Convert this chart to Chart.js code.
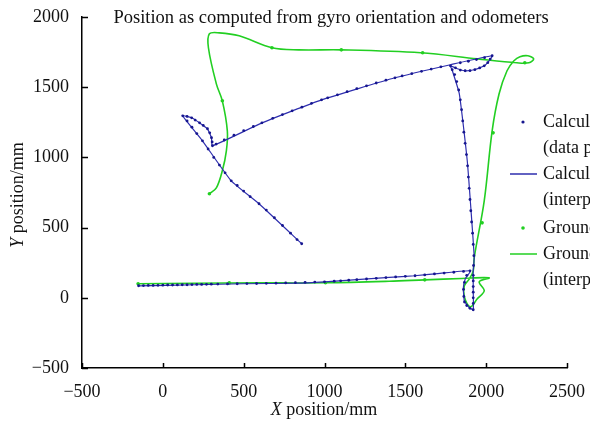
<!DOCTYPE html>
<html>
<head>
<meta charset="utf-8">
<script src="https://cdn.jsdelivr.net/npm/chart.js@4.4.0/dist/chart.umd.min.js"></script>
<style>
html,body{margin:0;padding:0;background:#fff;}
#wrap{width:590px;height:423px;position:relative;}
</style>
</head>
<body>
<div id="wrap"><canvas id="c" width="590" height="423"></canvas></div>
<script>
// ---- data (mm) ----
const titleText = "Position as computed from gyro orientation and odometers";
const xTicks = [-500, 0, 500, 1000, 1500, 2000, 2500];
const yTicks = [-500, 0, 500, 1000, 1500, 2000];
const legendLabels = [
  ["Calculated position", "(data points)"],
  ["Calculated position", "(interpolated)"],
  ["Ground truth (data points)"],
  ["Ground truth", "(interpolated)"]
];

// calculated path (interpolated line)
const calcLine = [
  [-153,85],[200,93],[500,100],[840,104],[1000,114],[1400,145],[1558,157],[1700,172],[1902,192],
  [1871,135],[1859,71],[1865,-21],[1896,-71],[1920,-85],[1920,50],[1920,192],
  [1926,285],[1914,499],[1883,976],[1834,1453],[1791,1617],[1779,1652],
  [1822,1631],[1865,1617],[1926,1624],[1988,1652],[2018,1688],[2037,1724],
  [1779,1660],[1436,1567],[982,1410],[613,1246],[307,1083],
  [301,1140],[276,1204],[227,1246],[178,1282],[123,1296],
  [245,1118],[423,833],[595,670],[859,385]
];

// calculated data points
const calcPoints = [
  [-150,86],[-120,87],[-90,88],[-60,88],[-30,89],[0,90],[30,91],[60,91],[90,92],[120,93],[150,93],
  [180,94],[210,95],[240,95],[270,96],[300,97],[340,98],[400,99],[460,100],[520,101],[580,102],
  [640,103],[700,104],[760,106],[820,108],[880,110],[940,112],[1000,114],[1060,118],[1100,121],
  [1150,125],[1200,129],[1260,134],[1320,139],[1380,144],[1440,149],[1500,153],[1560,157],
  [1620,163],[1680,170],[1740,176],[1800,182],[1860,188],[1900,192],
  [1880,160],[1866,110],[1860,60],[1862,10],[1866,-30],[1880,-55],[1900,-75],[1920,-85],
  [1920,-40],[1920,0],[1920,40],[1920,80],[1920,120],[1920,160],[1922,230],[1924,300],
  [1920,380],[1916,460],[1910,540],[1905,620],[1900,700],[1895,780],[1890,860],[1885,940],
  [1878,1020],[1870,1100],[1862,1180],[1855,1260],[1848,1340],[1840,1410],[1830,1480],
  [1818,1540],[1805,1590],[1790,1625],[1779,1652],
  [1810,1638],[1840,1622],[1870,1617],[1900,1618],[1930,1625],[1960,1637],[1988,1652],
  [2010,1675],[2025,1700],[2037,1724],
  [1990,1710],[1940,1697],[1890,1685],[1840,1674],[1720,1645],[1660,1629],[1600,1613],
  [1540,1596],[1480,1580],[1436,1567],[1380,1550],[1320,1530],[1260,1510],[1200,1490],
  [1140,1468],[1080,1446],[1020,1424],[982,1410],[920,1385],[860,1358],[800,1332],[740,1305],
  [680,1278],[613,1246],[560,1220],[500,1190],[440,1158],[380,1124],[330,1095],[307,1083],
  [305,1110],[301,1140],[290,1175],[276,1204],[250,1228],[227,1246],[200,1266],[178,1282],
  [150,1292],[123,1296],[150,1260],[180,1215],[210,1170],[245,1118],[280,1060],[315,1000],
  [350,945],[385,890],[423,833],[460,800],[500,760],[540,720],[595,670],[640,625],[690,570],
  [740,515],[790,460],[830,415],[859,385]
];

// ground truth path (interpolated line)
const truthLine = [
  [-153,100],[200,104],[600,106],[1006,107],[1400,118],[1620,128],[1850,138],[2018,142],
  [1957,114],[1988,50],[1945,-7],[1902,-64],[1865,7],[1865,85],[1896,135],[1920,192],
  [1926,285],[1988,691],[2037,1189],[2080,1453],[2129,1617],[2172,1688],[2209,1717],
  [2258,1724],[2294,1702],[2264,1674],[2190,1674],[1945,1702],[1595,1745],[1104,1766],
  [840,1766],[675,1781],[472,1866],[350,1887],[288,1880],[282,1781],[331,1524],[368,1403],
  [399,1189],[393,1047],[368,905],[331,783],[288,741]
];

// ground truth data points
const truthPoints = [
  [-153,100],[411,106],[1006,107],[1620,128],[1975,534],[2043,1175],[2239,1674],
  [1607,1745],[1104,1766],[675,1781],[368,1403],[288,741]
];

const toXY = a => a.map(p => ({x:p[0], y:p[1]}));

const BLUE_LINE = '#2e2eae';
const BLUE_DOT = '#16168f';
const GREEN = '#22cf22';
const SERIF = '"Liberation Serif", "DejaVu Serif", serif';

const decor = {
  id: 'decor',
  afterDraw(chart) {
    const ctx = chart.ctx;
    const xs = chart.scales.x, ys = chart.scales.y;
    const ca = chart.chartArea;
    ctx.save();
    // inward tick marks
    ctx.strokeStyle = '#000';
    ctx.lineWidth = 1.5;
    ctx.beginPath();
    xTicks.forEach(v => {
      const px = Math.round(xs.getPixelForValue(v)) + 0.5;
      ctx.moveTo(px, ca.bottom); ctx.lineTo(px, ca.bottom - 5);
    });
    yTicks.forEach(v => {
      const py = Math.round(ys.getPixelForValue(v)) + 0.5;
      ctx.moveTo(ca.left, py); ctx.lineTo(ca.left + 6, py);
    });
    ctx.stroke();

    // title
    ctx.fillStyle = '#111';
    ctx.textAlign = 'center';
    ctx.textBaseline = 'middle';
    ctx.font = '18.5px ' + SERIF;
    ctx.fillText(titleText, 331, 18);

    // axis titles with italic variable
    function mixed(x, y, italicPart, rest) {
      ctx.font = 'italic 18px ' + SERIF;
      const w1 = ctx.measureText(italicPart).width;
      ctx.font = '18px ' + SERIF;
      const w2 = ctx.measureText(rest).width;
      const start = x - (w1 + w2) / 2;
      ctx.textAlign = 'left';
      ctx.font = 'italic 18px ' + SERIF;
      ctx.fillText(italicPart, start, y);
      ctx.font = '18px ' + SERIF;
      ctx.fillText(rest, start + w1, y);
    }
    mixed(324, 410, 'X', ' position/mm');
    ctx.save();
    ctx.translate(18, 195);
    ctx.rotate(-Math.PI / 2);
    mixed(0, 0, 'Y', ' position/mm');
    ctx.restore();

    // legend
    ctx.textAlign = 'left';
    ctx.textBaseline = 'middle';
    ctx.font = '18px ' + SERIF;
    const tx = 543;
    const rows = [122, 148, 174, 200, 228, 254, 280];
    ctx.fillStyle = BLUE_DOT;
    ctx.beginPath(); ctx.arc(523, rows[0], 1.6, 0, Math.PI * 2); ctx.fill();
    ctx.strokeStyle = BLUE_LINE; ctx.lineWidth = 1.5;
    ctx.beginPath(); ctx.moveTo(510, rows[2]); ctx.lineTo(537, rows[2]); ctx.stroke();
    ctx.fillStyle = GREEN;
    ctx.beginPath(); ctx.arc(523, rows[4], 1.8, 0, Math.PI * 2); ctx.fill();
    ctx.strokeStyle = GREEN;
    ctx.beginPath(); ctx.moveTo(510, rows[5]); ctx.lineTo(537, rows[5]); ctx.stroke();
    ctx.fillStyle = '#111';
    const lines = [
      legendLabels[0][0], legendLabels[0][1],
      legendLabels[1][0], legendLabels[1][1],
      legendLabels[2][0],
      legendLabels[3][0], legendLabels[3][1]
    ];
    lines.forEach((t, i) => ctx.fillText(t, tx, rows[i]));
    ctx.restore();
  }
};

new Chart(document.getElementById('c'), {
  type: 'scatter',
  data: {
    datasets: [
      { label: 'truthLine', data: toXY(truthLine), showLine: true, borderColor: GREEN,
        borderWidth: 1.6, pointRadius: 0, tension: 0.35, fill: false, order: 3 },
      { label: 'truthPoints', data: toXY(truthPoints), showLine: false, backgroundColor: GREEN,
        borderWidth: 0, pointRadius: 1.8, order: 2 },
      { label: 'calcLine', data: toXY(calcLine), showLine: true, borderColor: BLUE_LINE,
        borderWidth: 1.2, pointRadius: 0, tension: 0.15, fill: false, order: 1 },
      { label: 'calcPoints', data: toXY(calcPoints), showLine: false, backgroundColor: BLUE_DOT,
        borderWidth: 0, pointRadius: 1.4, order: 0 }
    ]
  },
  options: {
    responsive: false,
    animation: false,
    events: [],
    layout: { padding: { top: 17, right: 19, left: 0, bottom: 0 } },
    plugins: { legend: { display: false }, title: { display: false }, tooltip: { enabled: false } },
    scales: {
      x: {
        type: 'linear', min: -500, max: 2500,
        afterBuildTicks: s => { s.ticks = xTicks.map(v => ({ value: v })); },
        ticks: { color: '#111', font: { family: SERIF, size: 18 }, padding: 5,
          callback: v => (v < 0 ? '\u2212' + Math.abs(v) : String(v)), maxRotation: 0, autoSkip: false },
        grid: { display: false },
        border: { display: true, color: '#000', width: 1.5 },
        afterFit: s => { s.height = 55; }
      },
      y: {
        type: 'linear', min: -500, max: 2000,
        afterBuildTicks: s => { s.ticks = yTicks.map(v => ({ value: v })); },
        ticks: { color: '#111', font: { family: SERIF, size: 18 }, padding: 5,
          callback: v => (v < 0 ? '\u2212' + Math.abs(v) : String(v)), autoSkip: false },
        grid: { display: false },
        border: { display: true, color: '#000', width: 1.5 },
        afterFit: s => { s.width = 82; }
      }
    }
  },
  plugins: [decor]
});
</script>
</body>
</html>
